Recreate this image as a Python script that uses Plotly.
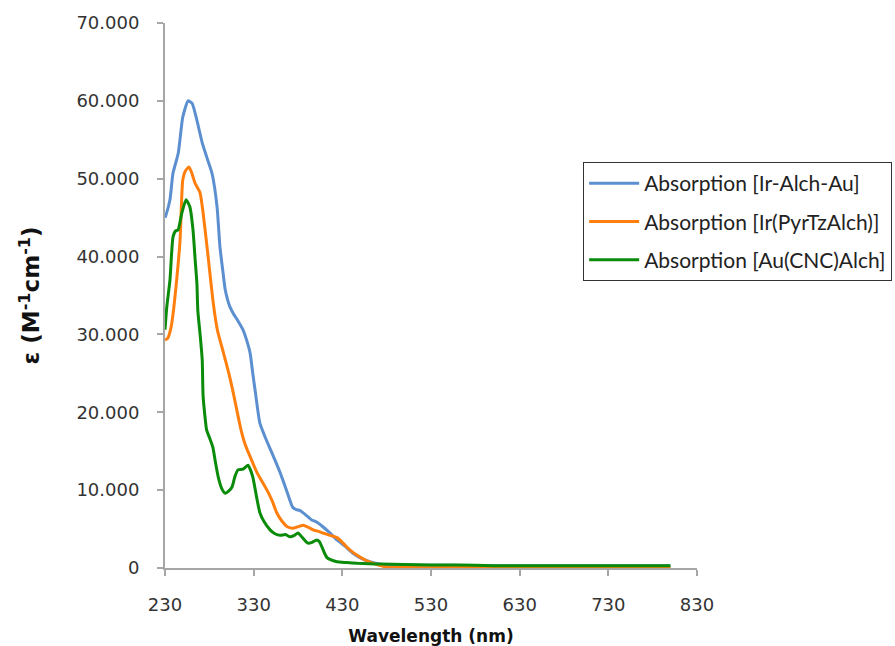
import plotly.graph_objects as go

# Absorption spectra (wavelength in nm, molar absorptivity in 10^3 M^-1 cm^-1)
wl_ir_au = [230, 231, 235.6, 239, 245, 250, 256, 260.5, 266, 272, 277, 283, 288.7, 292, 295.5,
            298, 303, 307, 312, 318, 322, 326, 329, 332, 337, 343, 349, 355, 360, 367, 374, 378,
            382, 390, 395, 401, 408, 416, 424, 433, 442, 452, 461, 470, 480, 500, 550, 600, 650,
            700, 750, 800]
eps_ir_au = [45.0, 45.3, 47.3, 50.7, 53.3, 57.9, 60.0, 59.7, 57.5, 54.6, 52.8, 50.7, 46.4, 41.2, 37.9,
             35.7, 33.6, 32.7, 31.8, 30.6, 29.3, 27.6, 25.0, 22.5, 18.6, 16.8, 15.2, 13.6, 12.2, 10.0, 7.8, 7.5,
             7.4, 6.7, 6.2, 5.9, 5.3, 4.5, 3.6, 2.8, 1.9, 1.2, 0.8, 0.55, 0.4, 0.35, 0.35, 0.3, 0.3,
             0.3, 0.3, 0.3]

wl_ir_pyrtz = [230, 233, 237, 240, 243.5, 247, 250, 253, 257, 260, 264, 269.5, 273, 279, 284, 289,
               296, 302, 307, 315, 320, 326, 334, 340, 345, 351, 356, 362, 368, 374, 380, 386, 392,
               397, 403, 408, 416, 424, 430, 435, 442, 450, 458, 465, 473, 481, 500, 550, 600, 650,
               700, 750, 800]
eps_ir_pyrtz = [29.3, 29.5, 31.0, 33.5, 37.4, 42.1, 49.8, 51.0, 51.5, 50.8, 49.4, 48.2, 45.6, 39.6, 34.4, 30.6,
                27.6, 25.0, 22.5, 18.1, 16.0, 14.3, 12.2, 11.0, 10.0, 8.6, 7.1, 6.0, 5.3, 5.1, 5.3, 5.5, 5.2,
                4.9, 4.7, 4.5, 4.2, 3.9, 3.3, 2.7, 2.0, 1.4, 0.9, 0.6, 0.3, 0.1, 0.05, 0.05, 0.05, 0.05,
                0.05, 0.05, 0.05]

wl_au_cnc = [230, 232, 235.6, 239, 242, 244.7, 249, 253.7, 258, 261.6, 264, 266, 267, 270, 272, 273,
             277, 280, 284, 287, 290, 294, 298, 302, 305.6, 309, 312.4, 318, 323.7, 326, 329, 333, 337,
             342, 348.5, 354, 360, 366, 371, 376, 380, 385, 391, 396, 401, 404, 407, 410, 413, 418, 424,
             435, 447, 460, 473, 500, 530, 560, 600, 650, 700, 750, 800]
eps_au_cnc = [30.6, 33.5, 37.0, 42.5, 43.3, 43.4, 45.6, 47.3, 46.4, 43.4, 39.6, 36.5, 33.1, 29.5, 26.7, 22.0,
              17.7, 16.8, 15.5, 13.5, 11.7, 10.2, 9.6, 9.9, 10.4, 11.8, 12.6, 12.7, 13.2, 12.7, 11.7, 9.3, 7.1,
              5.9, 4.9, 4.4, 4.2, 4.3, 4.0, 4.2, 4.5, 3.9, 3.2, 3.3, 3.6, 3.4, 2.7, 1.9, 1.3, 1.0, 0.8,
              0.7, 0.6, 0.55, 0.5, 0.45, 0.4, 0.4, 0.3, 0.3, 0.3, 0.3, 0.3]

series_names = ["Absorption [Ir-Alch-Au]", "Absorption [Ir(PyrTzAlch)]", "Absorption [Au(CNC)Alch]"]
series_colors = ["#5B8FCF", "#FF7F0E", "#0A8C0A"]

x_ticks = [230, 330, 430, 530, 630, 730, 830]
y_ticks = [0, 10, 20, 30, 40, 50, 60, 70]
y_tick_text = ["0", "10.000", "20.000", "30.000", "40.000", "50.000", "60.000", "70.000"]

fig = go.Figure()
for i, (wl, eps, name, color) in enumerate(zip(
    [wl_ir_au, wl_ir_pyrtz, wl_au_cnc],
    [eps_ir_au, eps_ir_pyrtz, eps_au_cnc],
    series_names, series_colors,
)):
    fig.add_trace(go.Scatter(
        x=wl, y=eps, mode="lines", name=name, legendgroup=f"g{i}",
        line=dict(color=color, width=3, shape="spline", smoothing=0.5),
    ))

axis_color = "#A6A6A6"
tick_font = dict(family="DejaVu Sans", size=18, color="#333333")

fig.update_layout(
    width=895, height=646,
    margin=dict(l=165, r=198, t=23, b=78, autoexpand=False),
    paper_bgcolor="white", plot_bgcolor="white",
    showlegend=True,
    legend=dict(
        x=0.786, y=0.745, xanchor="left", yanchor="top",
        bgcolor="white", bordercolor="#333333", borderwidth=1,
        font=dict(family="Lato", size=21, color="#222222"),
        itemwidth=50, tracegroupgap=8,
    ),
    xaxis=dict(
        range=[230, 830], tickvals=x_ticks, ticktext=[str(v) for v in x_ticks],
        showgrid=False, zeroline=False, showline=True, linecolor=axis_color, linewidth=2,
        ticks="outside", ticklen=6, tickcolor=axis_color, tickwidth=2,
        tickfont=tick_font, ticklabelstandoff=13, automargin=False,
        title=dict(text="<b>Wavelength (nm)</b>", standoff=22,
                   font=dict(family="DejaVu Sans", size=17, color="#111111")),
    ),
    yaxis=dict(
        range=[0, 70], tickvals=y_ticks, ticktext=y_tick_text,
        showgrid=False, zeroline=False, showline=True, linecolor=axis_color, linewidth=2,
        ticks="outside", ticklen=6, tickcolor=axis_color, tickwidth=2,
        tickfont=tick_font, ticklabelstandoff=14, automargin=False,
        title=dict(text="<b>ε (M<sup>-1</sup>cm<sup>-1</sup>)</b>", standoff=30,
                   font=dict(family="DejaVu Sans", size=23, color="#111111")),
    ),
)

fig.write_html("out.html")
